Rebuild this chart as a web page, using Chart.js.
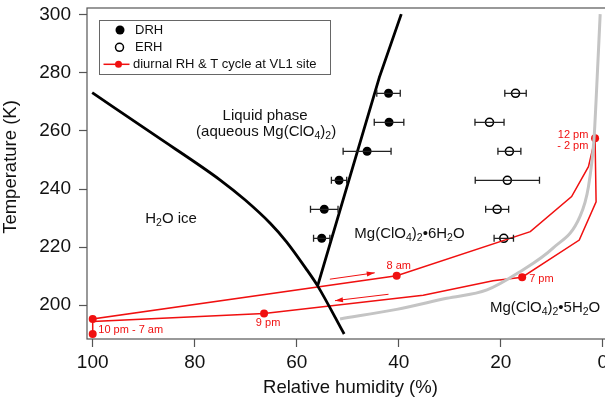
<!DOCTYPE html>
<html>
<head>
<meta charset="utf-8">
<script src="https://cdn.jsdelivr.net/npm/chart.js@4.4.0/dist/chart.umd.min.js"></script>
<style>
  html, body { margin: 0; padding: 0; overflow: hidden; background: #fff; }
  canvas { display: block; }
</style>
</head>
<body>
<canvas id="phaseChart" width="625" height="403"></canvas>

<script>
// tick values
const xTicks = [0, 20, 40, 60, 80, 100];
const yTicks = [200, 220, 240, 260, 280, 300];

// deliquescence (DRH) and efflorescence (ERH) measurements: RH (%), error (%), T (K)
const drhRH  = [42.0, 41.9, 46.2, 51.7, 54.6, 55.1];
const drhErr = [2.3, 2.9, 4.7, 1.5, 2.7, 1.6];
const drhT   = [273, 263, 253, 243, 233, 223];
const erhRH  = [17.1, 22.2, 18.3, 18.7, 20.7, 19.4];
const erhErr = [2.1, 2.85, 2.25, 6.3, 2.25, 1.9];
const erhT   = [273, 263, 253, 243, 233, 223];

// phase boundaries
const iceRH = [100.1, 87.6, 75.0, 70.1, 65.2, 62.0, 58.0, 55.9, 50.7];
const iceT  = [273.2, 258.3, 243.1, 236.2, 228.2, 221.8, 212.1, 206.6, 190.0];
const liqRH = [55.9, 43.8, 39.5];
const liqT  = [206.6, 278.5, 300.3];
const hydRH = [51.5, 40.4, 30.6, 22.7, 16.2, 9.7, 4.5, 2.8, 1.7, 1.3, 0.5];
const hydT  = [195.2, 198.5, 202.3, 205.2, 211.5, 219.7, 230.4, 240.8, 257.5, 270.7, 300.3];

// diurnal RH & T cycle at VL1 site
const cycleRH  = [100, 100, 40.4, 14.2, 6.1, 2.8, 1.5, 1.3, 4.6, 15.8, 21.5, 35.2, 66.4, 100, 100];
const cycleT   = [190, 195.2, 210.1, 225.3, 237.4, 247.7, 257.5, 235.6, 222.4, 209.6, 208.4, 203.4, 197.1, 194.3, 190];
const cycleDot = [1, 1, 1, 0, 0, 0, 1, 0, 0, 1, 0, 0, 1, 0, 0];

// direction arrows along the cycle (RH, T)
const arrowFrom = [[53.5, 208.9], [42.0, 203.7]];
const arrowTo   = [[44.7, 211.1], [52.5, 201.5]];

const toXY = (xs, ys) => xs.map((v, i) => ({x: v, y: ys[i]}));
const FONT = "'Liberation Sans', Arial, Helvetica, sans-serif";
const RED = '#f01010';

// text with "_c" = subscript character
function richText(ctx, str, x, y, size, align) {
  const parts = [];
  for (let i = 0; i < str.length; i++) {
    if (str[i] === '_') { parts.push([str[i + 1], true]); i++; }
    else parts.push([str[i], false]);
  }
  const sub = size * 0.7;
  const w = parts.reduce((s, p) => {
    ctx.font = (p[1] ? sub : size) + 'px ' + FONT;
    return s + ctx.measureText(p[0]).width;
  }, 0);
  let cx = align === 'center' ? x - w / 2 : align === 'right' ? x - w : x;
  ctx.textAlign = 'left';
  ctx.textBaseline = 'middle';
  parts.forEach(p => {
    ctx.font = (p[1] ? sub : size) + 'px ' + FONT;
    ctx.fillText(p[0], cx, p[1] ? y + size * 0.28 : y);
    cx += ctx.measureText(p[0]).width;
  });
}

const decor = {
  id: 'decor',
  afterDatasetsDraw(chart) {
    const {ctx, chartArea: a, scales: {x, y}} = chart;
    ctx.save();

    // error bars
    chart.data.datasets.forEach(ds => {
      if (!ds.errX) return;
      ctx.strokeStyle = '#222';
      ctx.lineWidth = 1.3;
      ds.data.forEach((p, i) => {
        const x0 = x.getPixelForValue(p.x - ds.errX[i]);
        const x1 = x.getPixelForValue(p.x + ds.errX[i]);
        const py = y.getPixelForValue(p.y);
        ctx.beginPath();
        ctx.moveTo(x0, py); ctx.lineTo(x1, py);
        ctx.moveTo(x0, py - 3.5); ctx.lineTo(x0, py + 3.5);
        ctx.moveTo(x1, py - 3.5); ctx.lineTo(x1, py + 3.5);
        ctx.stroke();
      });
    });

    // arrows
    ctx.strokeStyle = RED;
    ctx.fillStyle = RED;
    ctx.lineWidth = 1;
    arrowFrom.forEach((f, i) => {
      const x0 = x.getPixelForValue(f[0]), y0 = y.getPixelForValue(f[1]);
      const x1 = x.getPixelForValue(arrowTo[i][0]), y1 = y.getPixelForValue(arrowTo[i][1]);
      const ang = Math.atan2(y1 - y0, x1 - x0);
      ctx.beginPath();
      ctx.moveTo(x0, y0); ctx.lineTo(x1, y1);
      ctx.stroke();
      ctx.beginPath();
      ctx.moveTo(x1, y1);
      ctx.lineTo(x1 - 8 * Math.cos(ang) + 2.5 * Math.sin(ang), y1 - 8 * Math.sin(ang) - 2.5 * Math.cos(ang));
      ctx.lineTo(x1 - 8 * Math.cos(ang) - 2.5 * Math.sin(ang), y1 - 8 * Math.sin(ang) + 2.5 * Math.cos(ang));
      ctx.closePath();
      ctx.fill();
    });

    // red time labels, placed next to the cycle dots
    const timeLabels = [
      {i: 2, text: '8 am', dx: 2, dy: -10, align: 'center'},
      {i: 9, text: '7 pm', dx: 7, dy: 1.5, align: 'left'},
      {i: 12, text: '9 pm', dx: 4, dy: 10, align: 'center'},
      {i: 0, text: '10 pm - 7 am', dx: 5.6, dy: -4, align: 'left'},
      {i: 6, text: '12 pm', dx: -6.7, dy: -3, align: 'right'},
      {i: 6, text: '- 2 pm', dx: -6.7, dy: 8.2, align: 'right'}
    ];
    ctx.fillStyle = RED;
    ctx.font = '11px ' + FONT;
    ctx.textBaseline = 'middle';
    timeLabels.forEach(l => {
      ctx.textAlign = l.align;
      ctx.fillText(l.text, x.getPixelForValue(cycleRH[l.i]) + l.dx, y.getPixelForValue(cycleT[l.i]) + l.dy);
    });

    // phase region labels (anchored in RH, T)
    ctx.fillStyle = '#111';
    const regions = [
      {rh: 66.2, t: 265.3, text: 'Liquid phase', align: 'center'},
      {rh: 66.0, t: 259.7, text: '(aqueous Mg(ClO_4)_2)', align: 'center'},
      {rh: 89.7, t: 229.7, text: 'H_2O ice', align: 'left'},
      {rh: 48.7, t: 224.5, text: 'Mg(ClO_4)_2•6H_2O', align: 'left'},
      {rh: 22.1, t: 199.0, text: 'Mg(ClO_4)_2•5H_2O', align: 'left'}
    ];
    regions.forEach(r => richText(ctx, r.text, x.getPixelForValue(r.rh), y.getPixelForValue(r.t), 15, r.align));

    // plot frame
    ctx.strokeStyle = '#555';
    ctx.lineWidth = 1.2;
    ctx.strokeRect(a.left, a.top, a.right - a.left, a.bottom - a.top);

    // legend box
    const lx = a.left + 12.5, ly = a.top + 12.5;
    ctx.fillStyle = '#fff';
    ctx.fillRect(lx, ly, 231, 54);
    ctx.strokeStyle = '#666';
    ctx.lineWidth = 1;
    ctx.strokeRect(lx, ly, 231, 54);
    ctx.fillStyle = '#000';
    ctx.beginPath(); ctx.arc(lx + 20.5, ly + 9.5, 4.5, 0, 2 * Math.PI); ctx.fill();
    ctx.strokeStyle = '#000';
    ctx.lineWidth = 1.5;
    ctx.beginPath(); ctx.arc(lx + 20, ly + 26.8, 4, 0, 2 * Math.PI); ctx.stroke();
    ctx.strokeStyle = RED;
    ctx.fillStyle = RED;
    ctx.beginPath(); ctx.moveTo(lx + 4, ly + 43.8); ctx.lineTo(lx + 30, ly + 43.8); ctx.stroke();
    ctx.beginPath(); ctx.arc(lx + 19, ly + 43.8, 3.5, 0, 2 * Math.PI); ctx.fill();
    ctx.fillStyle = '#111';
    ctx.font = '13px ' + FONT;
    ctx.textAlign = 'left';
    ctx.textBaseline = 'middle';
    ctx.fillText('DRH', lx + 35.5, ly + 9.5);
    ctx.fillText('ERH', lx + 35.5, ly + 26.8);
    ctx.fillText('diurnal RH & T cycle at VL1 site', lx + 33.5, ly + 43.8);

    // y axis title
    ctx.translate(11, 167);
    ctx.rotate(-Math.PI / 2);
    ctx.font = '18.5px ' + FONT;
    ctx.textAlign = 'center';
    ctx.fillText('Temperature (K)', 0, 0);
    ctx.restore();
  }
};

new Chart(document.getElementById('phaseChart'), {
  type: 'scatter',
  data: {
    datasets: [
      {
        label: '5H2O/6H2O',
        data: toXY(hydRH, hydT),
        showLine: true,
        borderColor: '#c4c4c4',
        borderWidth: 3,
        pointRadius: 0,
        cubicInterpolationMode: 'monotone'
      },
      {
        label: 'ice',
        data: toXY(iceRH, iceT),
        showLine: true,
        borderColor: '#000',
        borderWidth: 2.8,
        pointRadius: 0,
        cubicInterpolationMode: 'monotone'
      },
      {
        label: 'liquidus',
        data: toXY(liqRH, liqT),
        showLine: true,
        borderColor: '#000',
        borderWidth: 2.8,
        pointRadius: 0,
        tension: 0
      },
      {
        label: 'diurnal RH & T cycle at VL1 site',
        data: toXY(cycleRH, cycleT),
        showLine: true,
        borderColor: RED,
        backgroundColor: RED,
        borderWidth: 1.5,
        pointRadius: cycleDot.map(d => d ? 4 : 0),
        pointBorderWidth: 0,
        tension: 0
      },
      {
        label: 'DRH',
        data: toXY(drhRH, drhT),
        errX: drhErr,
        backgroundColor: '#000',
        borderColor: '#000',
        pointRadius: 4.5,
        pointBorderWidth: 0
      },
      {
        label: 'ERH',
        data: toXY(erhRH, erhT),
        errX: erhErr,
        backgroundColor: 'rgba(0,0,0,0)',
        borderColor: '#000',
        pointRadius: 4,
        pointBorderWidth: 1.6
      }
    ]
  },
  options: {
    responsive: false,
    animation: false,
    devicePixelRatio: 1,
    events: [],
    layout: { padding: { top: 8, right: 11, left: 0, bottom: 0 } },
    plugins: {
      legend: { display: false },
      tooltip: { enabled: false }
    },
    scales: {
      x: {
        type: 'linear',
        reverse: true,
        min: -2.21,
        max: 101.12,
        afterBuildTicks: s => { s.ticks = xTicks.map(v => ({value: v})); },
        afterFit: s => { s.height = 64; s.paddingLeft = 0; s.paddingRight = 0; },
        border: { display: false },
        grid: { drawOnChartArea: false, drawTicks: true, tickLength: 8, tickColor: '#555', tickWidth: 1.2 },
        ticks: { padding: 4, color: '#111', maxRotation: 0, font: { family: FONT, size: 19 } },
        title: {
          display: true,
          text: 'Relative humidity (%)',
          color: '#111',
          padding: { top: 4, bottom: 4 },
          font: { family: FONT, size: 18.5 }
        }
      },
      y: {
        type: 'linear',
        min: 188.28,
        max: 302.41,
        afterBuildTicks: s => { s.ticks = yTicks.map(v => ({value: v})); },
        afterFit: s => { s.width = 87; s.paddingTop = 0; s.paddingBottom = 0; },
        border: { display: false },
        grid: { drawOnChartArea: false, drawTicks: true, tickLength: 8, tickColor: '#555', tickWidth: 1.2 },
        ticks: { padding: 8, color: '#111', font: { family: FONT, size: 19 } }
      }
    }
  },
  plugins: [decor]
});
</script>
</body>
</html>
